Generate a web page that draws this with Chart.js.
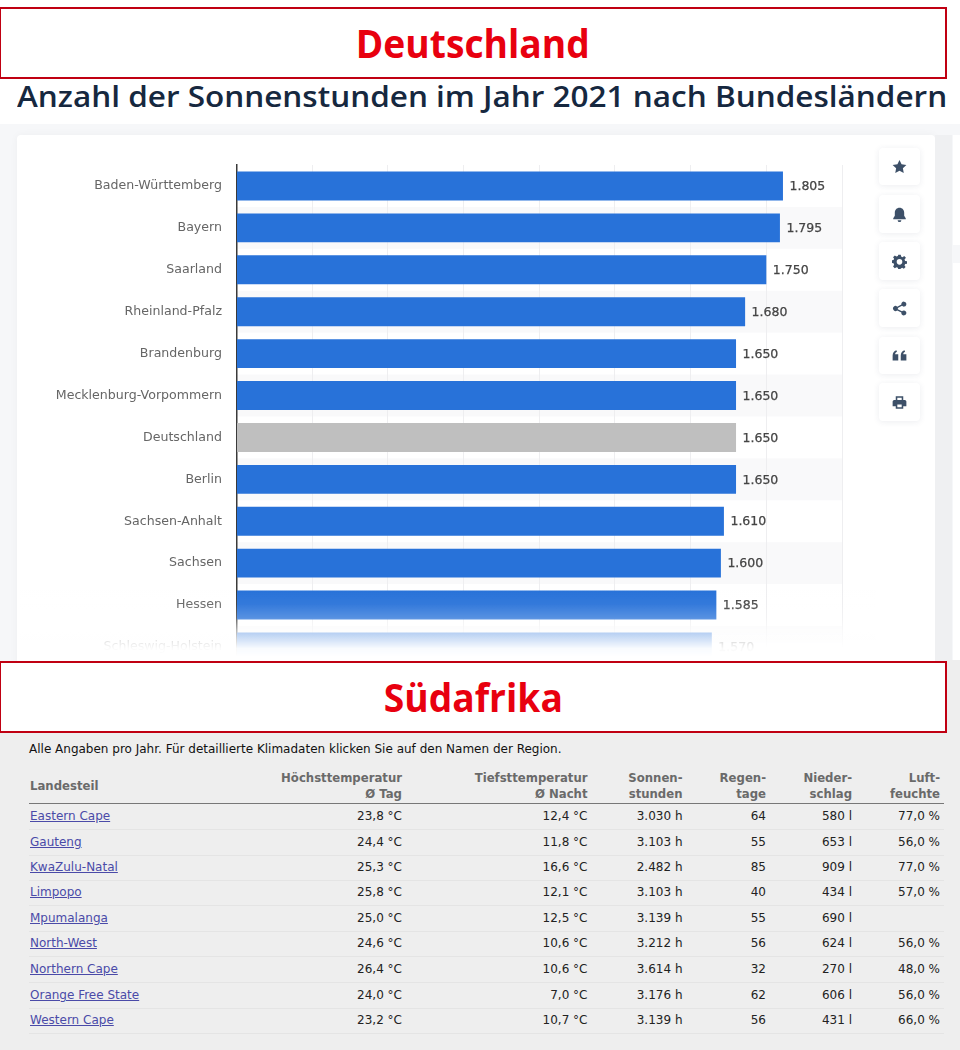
<!DOCTYPE html>
<html lang="de"><head><meta charset="utf-8">
<script src="https://cdn.jsdelivr.net/npm/chart.js@4"></script>
<style>
html,body{margin:0;padding:0;background:#fff;}
#page{position:relative;width:960px;height:1050px;overflow:hidden;background:#fff;font-family:"DejaVu Sans",sans-serif;}
.abs{position:absolute;}
.redbox{position:absolute;left:0;width:944px;height:68px;background:#fff;border:2px solid #c00012;border-left-width:1px;z-index:5;
 color:#e8000f;font:700 40px/67px "Open Sans",sans-serif;text-align:center;}
.redbox span{display:inline-block;transform:scaleX(.93);}
#title{position:absolute;left:17px;top:76px;white-space:nowrap;color:#16283f;font:600 28.5px/40px "Open Sans",sans-serif;transform-origin:0 0;transform:scaleX(1.105);}
#bg{left:0;top:124px;width:960px;height:546px;background:#f6f7f9;}
#card{left:17px;top:135px;width:918px;height:535px;background:#fff;border-radius:4px;box-shadow:0 0 8px rgba(0,0,0,.04);}
#strip{left:935px;top:135px;width:17px;height:535px;background:#eff0f2;}
#side1{left:953px;top:135px;width:7px;height:110px;background:#fff;}
#side2{left:953px;top:263px;width:7px;height:410px;background:#fff;}
#wrap{left:0;top:130px;width:960px;height:560px;}
#fade{left:20px;top:590px;width:856px;height:75px;background:linear-gradient(to bottom,rgba(255,255,255,0) 0%,rgba(255,255,255,.06) 19%,rgba(255,255,255,.22) 37%,rgba(255,255,255,.62) 54%,rgba(255,255,255,.97) 78%,#fff 88%,#fff 100%);}
.btn{position:absolute;left:879px;width:41px;background:#fff;border-radius:4px;box-shadow:0 1px 6px rgba(40,60,90,.09);display:flex;align-items:center;justify-content:center;}
.btn svg{width:15px;height:15px;fill:#3d5068;}
#lower{left:0;top:732px;width:960px;height:318px;background:#eeeeee;}
#sideLower{left:946px;top:660px;width:14px;height:72px;background:#eeeeee;}
#note{left:29px;top:741px;font-size:12px;line-height:16px;color:#111;white-space:nowrap;}
.hd,.cell{position:absolute;text-align:right;white-space:nowrap;font-size:12px;line-height:16px;}
.hd{color:#6a6a6a;font-weight:700;font-size:11.7px;line-height:16px;}
.cell{color:#222;}
.lnk{position:absolute;left:30px;font-size:12px;line-height:16px;color:#4a4aa8;text-decoration:underline;white-space:nowrap;}
.rule{position:absolute;left:29px;width:915px;height:1px;background:#e4e4e4;}
</style></head>
<body><div id="page">
<div class="abs" id="bg"></div>
<div class="abs" id="card"></div>
<div class="abs" id="strip"></div>
<div class="abs" id="side1"></div>
<div class="abs" id="side2"></div>
<div class="abs" id="wrap"><canvas id="c" width="960" height="560"></canvas></div>
<div class="abs" id="fade"></div>
<div class="redbox" style="top:7px"><span>Deutschland</span></div>
<div id="title">Anzahl der Sonnenstunden im Jahr 2021 nach Bundesländern</div>
<div class="redbox" style="top:661px"><span>Südafrika</span></div>
<div class="btn" style="top:148px;height:37px"><svg viewBox="0 0 24 24"><path d="M12 1.5l3.3 7 7.7 1-5.6 5.3 1.4 7.7-6.8-3.7-6.8 3.7 1.4-7.7L1 9.500l7.700-1z"/></svg></div>
<div class="btn" style="top:195px;height:38px"><svg viewBox="0 0 24 24"><path d="M12 1c-4.500 0-7.500 3.500-7.500 8v5L2 18v1.500h20V18l-2.500-4V9c0-4.500-3-8-7.500-8zM9 21a3 3 0 0 0 6 0z"/></svg></div>
<div class="btn" style="top:242px;height:38px"><svg viewBox="0 0 24 24"><path fill-rule="evenodd" d="M10 1h4l.6 3 2.300 1 2.600-1.700 2.800 2.800L20 8.700l1 2.300 3 .6v3.800l-3 .6-1 2.300 1.700 2.600-2.800 2.800-2.600-1.700-2.300 1-.6 2H10l-.6-3-2.300-1-2.600 1.700-2.800-2.800L3.400 17l-1-2.300-3-.6v-3.800l3-.6 1-2.300L1.700 5l2.800-2.800 2.600 1.700L9.400 3zM12 8a4.500 4.500 0 1 0 0 9 4.500 4.500 0 0 0 0-9z"/></svg></div>
<div class="btn" style="top:289px;height:38px"><svg viewBox="0 0 24 24"><path d="M19 1a4 4 0 1 1-3 6.700L9.300 11a4 4 0 0 1 0 2l6.700 3.300a4 4 0 1 1-1 2L8.300 15a4 4 0 1 1 0-6L15 5.700A4 4 0 0 1 19 1z"/></svg></div>
<div class="btn" style="top:337px;height:37px"><svg viewBox="0 0 24 24"><path d="M1 20v-8c0-4 2-7 6-8.500l1 2.500c-2 1-3 2-3 4h5v10zm13 0v-8c0-4 2-7 6-8.500l1 2.500c-2 1-3 2-3 4h5v10z"/></svg></div>
<div class="btn" style="top:383px;height:38px"><svg viewBox="0 0 24 24"><path fill-rule="evenodd" d="M6 2h12v6h2.500A2.500 2.500 0 0 1 23 10.500V18h-5v4H6v-4H1v-7.500A2.500 2.500 0 0 1 3.500 8H6zm2.500 2.500V8h7V4.500zM8.500 15v4.500h7V15z"/></svg></div>
<div class="abs" id="sideLower"></div>
<div class="abs" id="lower"></div>
<div class="abs" id="note">Alle Angaben pro Jahr. Für detaillierte Klimadaten klicken Sie auf den Namen der Region.</div>
<div id="table"></div>
</div>
<script>
// Chart data: sunshine hours 2021 by Bundesland
const categories = ["Baden-Württemberg","Bayern","Saarland","Rheinland-Pfalz","Brandenburg","Mecklenburg-Vorpommern","Deutschland","Berlin","Sachsen-Anhalt","Sachsen","Hessen","Schleswig-Holstein"];
const sunHours = [1805,1795,1750,1680,1650,1650,1650,1650,1610,1600,1585,1570];
const highlightCategory = "Deutschland";
const axisMax = 2000;
const axisStep = 250;

// Table data: South Africa
const regions = ["Eastern Cape","Gauteng","KwaZulu-Natal","Limpopo","Mpumalanga","North-West","Northern Cape","Orange Free State","Western Cape"];
const tempHigh = ["23,8 °C","24,4 °C","25,3 °C","25,8 °C","25,0 °C","24,6 °C","26,4 °C","24,0 °C","23,2 °C"];
const tempLow = ["12,4 °C","11,8 °C","16,6 °C","12,1 °C","12,5 °C","10,6 °C","10,6 °C","7,0 °C","10,7 °C"];
const sunshine = ["3.030 h","3.103 h","2.482 h","3.103 h","3.139 h","3.212 h","3.614 h","3.176 h","3.139 h"];
const rainDays = ["64","55","85","40","55","56","32","62","56"];
const rainfall = ["580 l","653 l","909 l","434 l","690 l","624 l","270 l","606 l","431 l"];
const humidity = ["77,0 %","56,0 %","77,0 %","57,0 %","","56,0 %","48,0 %","56,0 %","66,0 %"];

const fmt = v => String(v).replace(/\B(?=(\d{3})+$)/g,".");
const BLUE="#2872d9", GREY="#bfbfbf";

const stripes = {id:"stripes",beforeDraw(ch){
  const {ctx,chartArea:a,scales:{y}}=ch; const h=y.getPixelForValue(1)-y.getPixelForValue(0);
  ctx.save();ctx.fillStyle="#f9f9fa";
  categories.forEach((c,i)=>{ if(i%2===1) ctx.fillRect(a.left,y.getPixelForValue(i)-h/2,a.right-a.left,h);});
  ctx.restore();
}};
const valueLabels = {id:"valueLabels",afterDatasetsDraw(ch){
  const {ctx,scales:{x,y}}=ch;
  ctx.save();ctx.font='12.5px "DejaVu Sans"';ctx.fillStyle="#444";ctx.textBaseline="middle";ctx.textAlign="left";
  ctx.lineWidth=.25;ctx.strokeStyle="#444";
  sunHours.forEach((v,i)=>{const t=fmt(v);const px=x.getPixelForValue(v)+6.5,py=y.getPixelForValue(i)+1;ctx.fillText(t,px,py);ctx.strokeText(t,px,py);});
  ctx.restore();
}};
new Chart(document.getElementById("c"),{
  type:"bar",
  data:{labels:categories,datasets:[{data:sunHours,
    backgroundColor:categories.map(c=>c===highlightCategory?GREY:BLUE),
    borderWidth:0,barPercentage:.69,categoryPercentage:1}]},
  plugins:[stripes,valueLabels],
  options:{indexAxis:"y",responsive:false,animation:false,
    layout:{padding:{top:35,bottom:4,right:118,left:0}},
    plugins:{legend:{display:false},tooltip:{enabled:false}},
    scales:{
      x:{afterFit(s){s.height=0;},min:0,max:axisMax,ticks:{display:false,stepSize:axisStep},
         grid:{color:"#eeeef0",lineWidth:1,drawTicks:false},border:{display:false}},
      y:{afterFit(s){s.width=236.5;},ticks:{color:"#666",padding:14.5,font:{family:'"DejaVu Sans"',size:12.6}},
         grid:{display:false,drawTicks:false},border:{color:"#3a3a3a",width:1.5}}
    }}
});

// South Africa table
const T=document.getElementById("table");
const add=(cls,txt,css)=>{const d=document.createElement("div");d.className=cls;d.innerHTML=txt;d.style.cssText=css;T.appendChild(d);};
const rightEdges=[402,587.5,682.5,766,852,940];
const headers=[["Höchsttemperatur","Ø Tag"],["Tiefsttemperatur","Ø Nacht"],["Sonnen-","stunden"],["Regen-","tage"],["Nieder-","schlag"],["Luft-","feuchte"]];
add("hd","Landesteil","left:30px;top:778px;");
headers.forEach((h,j)=>add("hd",h[0]+"<br>"+h[1],`right:${960-rightEdges[j]}px;top:770px;`));
add("rule","",`top:802.500px;height:1.500px;background:#777;`);
const rowY=[816,842,867,892,918,943,969,995,1020];
const cols=[tempHigh,tempLow,sunshine,rainDays,rainfall,humidity];
regions.forEach((r,i)=>{
  add("lnk",r,`top:${rowY[i]-8}px;`);
  cols.forEach((col,j)=>add("cell",col[i],`right:${960-rightEdges[j]}px;top:${rowY[i]-8}px;`));
  if(i<regions.length)add("rule","",`top:${rowY[i]+12.500}px;`);
});
</script>
</body></html>
